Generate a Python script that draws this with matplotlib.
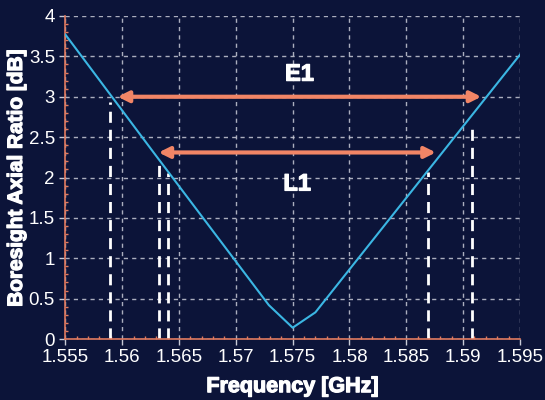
import matplotlib.pyplot as plt
import matplotlib.patheffects as pe
from matplotlib.ticker import MultipleLocator

# axial ratio curve
freq = [1.555, 1.5626, 1.5729, 1.575, 1.577, 1.595]
axial_ratio = [3.77, 2.34, 0.42, 0.14, 0.33, 3.52]

# band edge markers (freq, height of dashed line)
marker_freq = [1.5589, 1.5632, 1.5640, 1.5869, 1.5908]
marker_top = [2.94, 2.15, 2.05, 2.07, 2.65]

# bandwidth arrows: label, start, end, level, label position
band_names = ['E1', 'L1']
band_start = [1.5596, 1.5632]
band_end = [1.5916, 1.5876]
band_level = [3.0, 2.31]
label_level = [3.28, 1.92]

xticks = [1.555, 1.56, 1.565, 1.57, 1.575, 1.58, 1.585, 1.59, 1.595]
xticklabels = ['1.555', '1.56', '1.565', '1.57', '1.575', '1.58', '1.585', '1.59', '1.595']
yticks = [0, 0.5, 1, 1.5, 2, 2.5, 3, 3.5, 4]
yticklabels = ['0', '0.5', '1', '1.5', '2', '2.5', '3', '3.5', '4']

bg = '#0c1439'
spine_col = '#e07a5f'
arrow_col = '#f28566'

plt.rcParams['font.family'] = ['Liberation Sans', 'DejaVu Sans']

fig = plt.figure(figsize=(5.45, 4.0), dpi=100, facecolor=bg)
ax = fig.add_axes([0.120, 0.1525, 0.834, 0.8075], facecolor=bg)

ax.grid(True, color='#c8cad6', linestyle=(0, (3, 3)), linewidth=1, alpha=0.85)
ax.set_axisbelow(True)

for f, top in zip(marker_freq, marker_top):
    ax.plot([f, f], [0, top], color='white', linewidth=2, linestyle=(0, (4, 2.5)))

ax.plot(freq, axial_ratio, color='#3bb6e3', linewidth=1.5, zorder=4)

heavy = [pe.withStroke(linewidth=0.9, foreground='white')]

for name, s, e, lvl, ly in zip(band_names, band_start, band_end, band_level, label_level):
    ax.annotate('', xy=(s, lvl), xytext=(e, lvl),
                arrowprops=dict(arrowstyle='<|-|>', color=arrow_col, lw=3,
                                mutation_scale=16, shrinkA=0, shrinkB=0),
                zorder=5)
    ax.text((s + e) / 2, ly, name, color='white', fontsize=17, fontweight='bold',
            ha='center', va='center', path_effects=heavy)

ax.set_xlim(1.555, 1.595)
ax.set_ylim(0, 4)
ax.set_xticks(xticks)
ax.set_xticklabels(xticklabels)
ax.set_yticks(yticks)
ax.set_yticklabels(yticklabels)
ax.xaxis.set_minor_locator(MultipleLocator(0.001))
ax.yaxis.set_minor_locator(MultipleLocator(0.1))

ax.tick_params(axis='both', which='major', colors='white', labelsize=13.5,
               length=4, width=1, color='#c8cad6')
ax.tick_params(axis='both', which='minor', length=2, width=1, color=spine_col,
               direction='in')

for side in ['top', 'right']:
    ax.spines[side].set_visible(False)
for side in ['left', 'bottom']:
    ax.spines[side].set_color(spine_col)
    ax.spines[side].set_linewidth(1.2)

ax.set_xlabel('Frequency [GHz]', color='white', fontsize=15.5, fontweight='bold',
              labelpad=7, path_effects=heavy)
ax.set_ylabel('Boresight Axial Ratio [dB]', color='white', fontsize=15, fontweight='bold',
              labelpad=2, path_effects=heavy)

fig.savefig('out.png', dpi=100, facecolor=bg)
